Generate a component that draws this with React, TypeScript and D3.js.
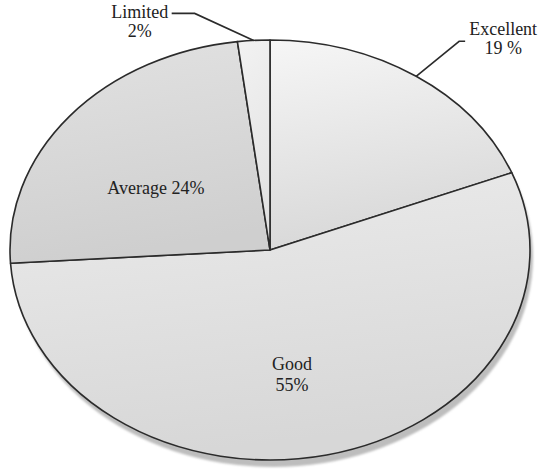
import React from "react";
import * as d3 from "d3";

const categories = ["Excellent", "Good", "Average", "Limited"];
const values = [19, 55, 24, 2];
const labelLines = [["Excellent", "19 %"], ["Good", "55%"], ["Average 24%"], ["Limited", "2%"]];
const gradTop = ["#f6f6f6", "#ebebeb", "#e2e2e2", "#f2f2f2"];
const gradBottom = ["#d8d8d8", "#d7d7d7", "#cfcfcf", "#e2e2e2"];

const W = 541;
const H = 472;
const cx = 270;
const cy = 250;
const rx = 260;
const ry = 210;

// label layout: inside (radius factor + nudge) or outside (elbow offset + text position offsets)
const labelLayout = [
  { kind: "out", elbow: [43, -35], tail: 6, text: [87, -41] },
  { kind: "in", r: 0.6, dx: -12, dy: 2 },
  { kind: "in", r: 0.53, dx: -8, dy: 9 },
  { kind: "out", elbow: [-59, -27], tail: -23, text: [-114, -22] },
];

export default function App() {
  const pie = d3.pie<number>().sort(null).value((d) => d);
  const arcs = pie(values);
  const arc = d3.arc<d3.PieArcDatum<number>>().innerRadius(0).outerRadius(rx);
  const sy = ry / rx;
  const ell = (a: number, f = 1) => [cx + rx * f * Math.sin(a), cy - ry * f * Math.cos(a)];
  const font = '"Liberation Serif", "Times New Roman", serif';

  return (
    <div style={{ position: "absolute", left: 0, top: 0 }}>
      <svg width={W} height={H} viewBox={`0 0 ${W} ${H}`} style={{ fontFamily: font }}>
        <defs>
          {arcs.map((a, i) => (
            <linearGradient key={i} id={`g${i}`} x1="0" y1="0" x2="0.2" y2="1">
              <stop offset="0%" stopColor={gradTop[i]} />
              <stop offset="100%" stopColor={gradBottom[i]} />
            </linearGradient>
          ))}
          <filter id="blur" x="-10%" y="-10%" width="120%" height="120%">
            <feGaussianBlur stdDeviation="1" />
          </filter>
        </defs>
        <rect width={W} height={H} fill="#ffffff" />
        <ellipse cx={cx + 3} cy={cy + 7} rx={rx} ry={ry} fill="#bdbdbd" filter="url(#blur)" />
        <g transform={`translate(${cx},${cy}) scale(1,${sy})`}>
          {arcs.map((a, i) => (
            <path
              key={categories[i]}
              d={arc(a) || ""}
              fill={`url(#g${i})`}
              stroke="#2b2b2b"
              strokeWidth={1.6}
              strokeLinejoin="round"
              vectorEffect="non-scaling-stroke"
            />
          ))}
        </g>
        {arcs.map((a, i) => {
          const mid = (a.startAngle + a.endAngle) / 2;
          const L = labelLayout[i];
          const lines = labelLines[i];
          if (L.kind === "in") {
            const [x0, y] = ell(mid, L.r as number);
            const x = x0 + (L.dx as number);
            const lh = 21;
            const y0 = y - ((lines.length - 1) * lh) / 2 + 6 + (L.dy as number);
            return (
              <text key={i} x={x} y={y0} textAnchor="middle" style={{ fontFamily: font }} fontSize={18} fill="#222">
                {lines.map((t, j) => (
                  <tspan key={j} x={x} y={y0 + j * lh}>{t}</tspan>
                ))}
              </text>
            );
          }
          const [sx, sy2] = ell(mid);
          const el = L.elbow as number[];
          const ex = sx + el[0];
          const ey = sy2 + el[1];
          const tx = ex + (L.tail as number);
          const tp = L.text as number[];
          const x = sx + tp[0];
          const y = sy2 + tp[1];
          return (
            <g key={i}>
              <polyline points={`${sx},${sy2} ${ex},${ey} ${tx},${ey}`} fill="none" stroke="#2b2b2b" strokeWidth={1.6} />
              <text x={x} y={y} textAnchor="middle" style={{ fontFamily: font }} fontSize={18} fill="#222">
                {lines.map((t, j) => (
                  <tspan key={j} x={x} y={y + j * 19}>{t}</tspan>
                ))}
              </text>
            </g>
          );
        })}
      </svg>
    </div>
  );
}
